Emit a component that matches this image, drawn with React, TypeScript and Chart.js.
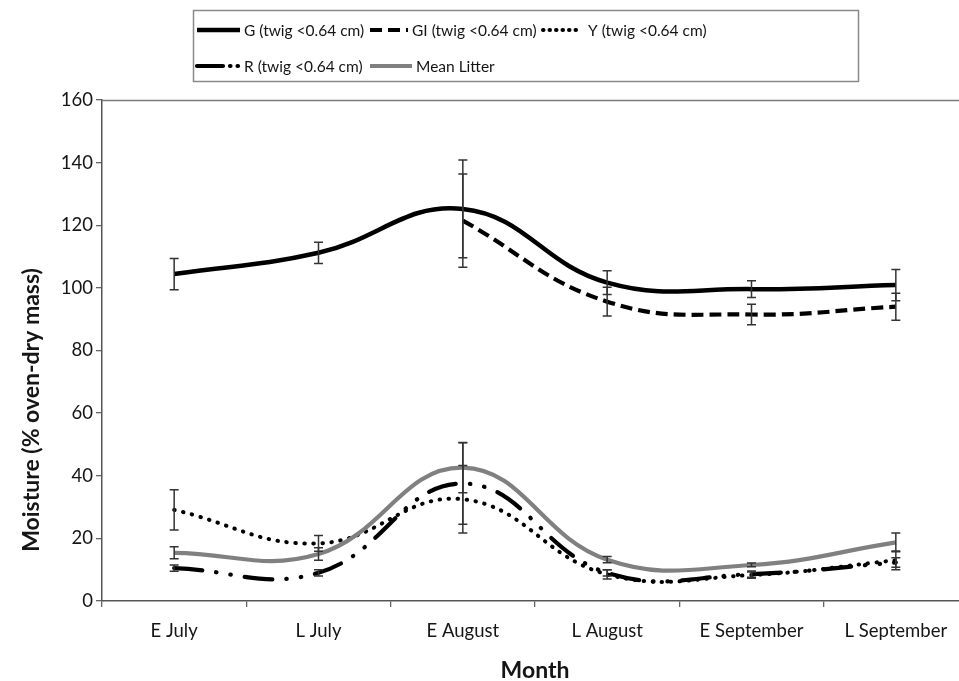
import React, { useEffect, useRef } from "react";
import { Chart, registerables } from "chart.js";

Chart.register(...registerables);

// ---- data ----
const months = ["E July", "L July", "E August", "L August", "E September", "L September"];
const gValues = [104.4, 111.2, 125.2, 101.7, 99.6, 100.9];
const giValues: (number | null)[] = [null, null, 121.5, 95.6, 91.5, 94.0];
const yValues = [29.1, 18.4, 32.5, 8.5, 8.3, 13.0];
const rValues = [10.5, 9.0, 37.5, 9.0, 8.6, 12.3];
const mlValues = [15.4, 15.0, 42.6, 13.2, 11.5, 18.7];

const gErr = [5.0, 3.4, 15.6, 3.8, 2.7, 5.0];
const giErr: (number | null)[] = [null, null, 14.9, 4.6, 3.3, 4.3];
const yErr = [6.4, 2.5, 10.8, 1.5, 1.0, 3.0];
const rErr = [1.0, 1.0, 13.0, 1.0, 1.0, 1.5];
const mlErr = [1.9, 2.0, 8.0, 1.0, 0.6, 3.0];

const legendLabels = [
  "G (twig <0.64 cm)",
  "GI (twig <0.64 cm)",
  "Y (twig <0.64 cm)",
  "R (twig <0.64 cm)",
  "Mean Litter",
];
const yTitle = "Moisture (% oven-dry mass)";
const xTitle = "Month";
const yMin = 0;
const yMax = 160;
const yStep = 20;

const FONT = "Lato, 'Open Sans', sans-serif";
const TEXT = "#151515";

type Style = { color: string; width: number; dash: number[]; cap: CanvasLineCap };
const styles: Style[] = [
  { color: "#000000", width: 4.5, dash: [], cap: "butt" },
  { color: "#000000", width: 4.2, dash: [12, 6], cap: "butt" },
  { color: "#000000", width: 4.0, dash: [0.5, 8.5], cap: "round" },
  { color: "#000000", width: 4.2, dash: [28, 14, 0.5, 14, 0.5, 14], cap: "round" },
  { color: "#808080", width: 4.2, dash: [], cap: "butt" },
];
const errors = [gErr, giErr, yErr, rErr, mlErr];

const extrasPlugin = {
  id: "extras",
  afterDatasetsDraw(chart: any) {
    const ctx = chart.ctx;
    const ys = chart.scales.y;
    ctx.save();
    ctx.strokeStyle = "#333";
    ctx.lineWidth = 1.5;
    ctx.setLineDash([]);
    chart.data.datasets.forEach((ds: any, i: number) => {
      const meta = chart.getDatasetMeta(i);
      const errs = errors[i];
      ds.data.forEach((v: number | null, j: number) => {
        const e = errs[j];
        if (v == null || e == null) return;
        const x = meta.data[j].x;
        const t = ys.getPixelForValue(v + e);
        const b = ys.getPixelForValue(v - e);
        ctx.beginPath();
        ctx.moveTo(x, t);
        ctx.lineTo(x, b);
        ctx.moveTo(x - 4.5, t);
        ctx.lineTo(x + 4.5, t);
        ctx.moveTo(x - 4.5, b);
        ctx.lineTo(x + 4.5, b);
        ctx.stroke();
      });
    });
    ctx.restore();
  },
  afterDraw(chart: any) {
    const ctx = chart.ctx;
    const ca = chart.chartArea;
    ctx.save();
    // top border of plot area
    ctx.strokeStyle = "#7a7a7a";
    ctx.lineWidth = 1.3;
    ctx.beginPath();
    ctx.moveTo(ca.left, ca.top + 0.5);
    ctx.lineTo(ca.right, ca.top + 0.5);
    ctx.stroke();

    // axis titles
    ctx.fillStyle = TEXT;
    ctx.font = `bold 23px ${FONT}`;
    ctx.textAlign = "center";
    ctx.textBaseline = "middle";
    ctx.save();
    ctx.translate(32, 410);
    ctx.rotate(-Math.PI / 2);
    ctx.fillText(yTitle, 0, 0);
    ctx.restore();
    ctx.font = `bold 23px ${FONT}`;
    ctx.textBaseline = "alphabetic";
    ctx.fillText(xTitle, 535, 678);

    // legend
    ctx.strokeStyle = "#8a8a8a";
    ctx.lineWidth = 1.5;
    ctx.strokeRect(193.5, 10.5, 665, 71);
    const items = [
      { x: 197, w: 43, y: 30 },
      { x: 370, w: 38, y: 30 },
      { x: 543, w: 36, y: 30 },
      { x: 197, w: 43, y: 66 },
      { x: 370, w: 42, y: 66 },
    ];
    ctx.font = `15.5px ${FONT}`;
    ctx.textAlign = "left";
    ctx.textBaseline = "middle";
    items.forEach((it, i) => {
      const s = styles[i];
      ctx.strokeStyle = s.color;
      ctx.lineWidth = s.width;
      ctx.lineCap = s.cap;
      if (i === 3) ctx.setLineDash([26, 7, 0.5, 7, 0.5, 7]);
      else if (i === 2) ctx.setLineDash([0.5, 6]);
      else ctx.setLineDash(s.dash);
      ctx.beginPath();
      ctx.moveTo(it.x, it.y);
      ctx.lineTo(it.x + it.w, it.y);
      ctx.stroke();
      ctx.setLineDash([]);
      ctx.fillStyle = TEXT;
      ctx.fillText(legendLabels[i], it.x + it.w + (i === 2 ? 9 : 4), it.y + 1);
    });
    ctx.restore();
  },
};

export default function App() {
  const ref = useRef<HTMLCanvasElement | null>(null);
  useEffect(() => {
    if (!ref.current) return;
    const series = [gValues, giValues, yValues, rValues, mlValues];
    const chart = new Chart(ref.current, {
      type: "line",
      data: {
        labels: months,
        datasets: series.map((d, i) => ({
          label: legendLabels[i],
          data: d as any,
          borderColor: styles[i].color,
          borderWidth: styles[i].width,
          borderDash: styles[i].dash,
          borderCapStyle: styles[i].cap,
          pointRadius: 0,
          tension: 0.42,
          fill: false,
          order: 10 - i,
          spanGaps: false,
        })),
      },
      options: {
        responsive: false,
        animation: false,
        devicePixelRatio: 1,
        layout: { padding: { top: 100, left: 0, right: 7, bottom: 0 } },
        plugins: { legend: { display: false }, tooltip: { enabled: false } },
        scales: {
          x: {
            type: "category",
            offset: true,
            afterFit: (s: any) => {
              s.height = 80;
            },
            grid: {
              offset: true,
              drawOnChartArea: false,
              drawTicks: true,
              tickLength: 6,
              color: "#666",
              lineWidth: 1.3,
            },
            border: { display: true, color: "#555", width: 1.5 },
            ticks: {
              font: { family: FONT, size: 18.5 },
              color: TEXT,
              padding: 13,
              maxRotation: 0,
              autoSkip: false,
            },
          },
          y: {
            min: yMin,
            max: yMax,
            afterFit: (s: any) => {
              s.width = 102;
            },
            grid: {
              drawOnChartArea: false,
              drawTicks: true,
              tickLength: 6,
              color: "#666",
              lineWidth: 1.3,
            },
            border: { display: true, color: "#555", width: 1.5 },
            ticks: {
              stepSize: yStep,
              font: { family: FONT, size: 18.5 },
              color: TEXT,
              padding: 3,
            },
          },
        },
      },
      plugins: [extrasPlugin],
    });
    return () => chart.destroy();
  }, []);

  return (
    <div
      style={{
        position: "fixed",
        left: 0,
        top: 0,
        width: 959,
        height: 681,
        overflow: "hidden",
        background: "#fff",
      }}
    >
      <canvas ref={ref} width={975} height={681} style={{ width: 975, height: 681, display: "block" }} />
    </div>
  );
}
